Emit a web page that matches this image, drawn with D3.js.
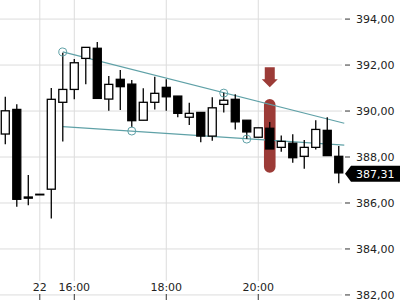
<!DOCTYPE html>
<html>
<head>
<meta charset="utf-8">
<script src="https://cdnjs.cloudflare.com/ajax/libs/d3/7.8.5/d3.min.js"></script>
<style>
  body { margin: 0; background: #fff; }
  svg { display: block; font-family: 'DejaVu Sans', sans-serif; }
</style>
</head>
<body>
<div id="chart"></div>
<script>
// 15 minute candles, one entry per bar
var opens  = [389.00, 390.07, 386.26, 386.38, 386.60, 390.38, 390.94, 392.29, 392.73, 390.52,
              391.38, 391.17, 389.60, 390.38, 391.03, 390.65, 389.73, 389.94, 388.91, 390.29,
              390.51, 389.60, 388.86, 389.25, 388.42, 388.60, 388.03, 388.42, 389.16, 388.03];
var highs  = [390.62, 390.30, 387.22, 386.38, 391.00, 392.53, 392.26, 392.77, 393.00, 391.52,
              391.78, 391.35, 390.99, 391.49, 391.38, 390.65, 390.36, 389.94, 390.60, 390.80,
              390.73, 389.60, 389.27, 389.52, 388.94, 388.99, 388.74, 389.60, 389.73, 388.48];
var lows   = [388.55, 385.84, 385.90, 386.38, 385.33, 388.67, 390.51, 391.16, 390.55, 390.01,
              390.04, 389.30, 389.60, 390.07, 390.01, 389.73, 389.39, 388.64, 388.71, 389.94,
              389.20, 388.79, 388.86, 388.35, 388.23, 387.75, 387.49, 388.33, 388.06, 386.86];
var closes = [390.01, 386.16, 386.21, 386.38, 390.51, 390.94, 392.10, 392.77, 390.55, 391.16,
              391.06, 389.58, 390.38, 390.77, 390.62, 389.90, 389.90, 388.91, 390.14, 390.47,
              389.53, 389.09, 389.27, 388.35, 388.68, 387.97, 388.42, 389.20, 388.06, 387.31];

var timeTickIndex  = [3, 6, 14, 22];
var timeTickLabels = ['22', '16:00', '18:00', '20:00'];
var priceTicks = [382, 384, 386, 388, 390, 392, 394];

// trend lines as [bar index, price]
var upperTrend = [[5, 392.57], [29.48, 389.47]];
var lowerTrend = [[5, 389.32], [29.48, 388.52]];
var trendAnchors = [[5, 392.57], [19, 390.78], [11, 389.13], [21, 388.78]];

// sell signal marker
var signalIndex = 23;
var signalBand = [387.32, 390.52];
var signalArrow = [391.91, 391.04];

var width = 400, height = 300;
var teal = '#5fa1a7';
var signalColor = '#9c3b37';

var locale = d3.formatLocale({decimal: ',', thousands: '.', grouping: [3], currency: ['', '']});
var fmt = locale.format('.2f');

var candles = opens.map(function(o, i) {
  return {i: i, open: o, high: highs[i], low: lows[i], close: closes[i]};
});

var x = d3.scaleLinear().domain([-0.46, 29.5]).range([0, 344.5]);
var y = d3.scaleLinear().domain([381.78, 394.83]).range([height, 0]);

var svg = d3.select('#chart').append('svg')
  .attr('width', width)
  .attr('height', height);

// grid
var grid = svg.append('g');
grid.selectAll('.hgrid').data(priceTicks).enter().append('line')
  .attr('x1', 0).attr('x2', 342)
  .attr('y1', function(d) { return y(d); })
  .attr('y2', function(d) { return y(d); })
  .attr('stroke', '#dcdcdc').attr('stroke-width', 1);
grid.selectAll('.vgrid').data(timeTickIndex).enter().append('line')
  .attr('x1', function(d) { return x(d); })
  .attr('x2', function(d) { return x(d); })
  .attr('y1', 0).attr('y2', 281)
  .attr('stroke', '#dcdcdc').attr('stroke-width', 1);

// right price axis
var yAxis = svg.append('g');
yAxis.selectAll('line').data(priceTicks).enter().append('line')
  .attr('x1', 345).attr('x2', 350)
  .attr('y1', function(d) { return y(d); })
  .attr('y2', function(d) { return y(d); })
  .attr('stroke', '#333');
yAxis.selectAll('text').data(priceTicks).enter().append('text')
  .attr('x', 356)
  .attr('y', function(d) { return y(d); })
  .attr('dy', '0.35em')
  .attr('font-size', 11)
  .attr('fill', '#222')
  .text(function(d) { return fmt(d); });

// bottom time axis (labels sit above the ticks)
var xAxis = svg.append('g');
xAxis.selectAll('line').data(timeTickIndex).enter().append('line')
  .attr('x1', function(d) { return x(d); })
  .attr('x2', function(d) { return x(d); })
  .attr('y1', 294).attr('y2', 300)
  .attr('stroke', '#333');
xAxis.selectAll('text').data(timeTickIndex).enter().append('text')
  .attr('x', function(d) { return x(d); })
  .attr('y', 291)
  .attr('text-anchor', 'middle')
  .attr('font-size', 11)
  .attr('fill', '#222')
  .text(function(d, i) { return timeTickLabels[i]; });

// signal pill + arrow
var sx = x(signalIndex);
svg.append('rect')
  .attr('x', sx - 5.8).attr('width', 11.6)
  .attr('y', y(signalBand[1]))
  .attr('height', y(signalBand[0]) - y(signalBand[1]))
  .attr('rx', 5.8)
  .attr('fill', signalColor);

var aTop = y(signalArrow[0]), aTip = y(signalArrow[1]);
svg.append('path')
  .attr('d', 'M' + (sx - 5) + ',' + aTop + 'H' + (sx + 5) + 'V' + (aTip - 8) +
             'H' + (sx + 8) + 'L' + sx + ',' + aTip + 'L' + (sx - 8) + ',' + (aTip - 8) +
             'H' + (sx - 5) + 'Z')
  .attr('fill', signalColor);

// trend lines
var line = d3.line()
  .x(function(d) { return x(d[0]); })
  .y(function(d) { return y(d[1]); });
[upperTrend, lowerTrend].forEach(function(t) {
  svg.append('path').attr('d', line(t))
    .attr('fill', 'none').attr('stroke', teal).attr('stroke-width', 1.2);
});

// candles
var bodyW = 8;
var cg = svg.append('g').selectAll('g').data(candles).enter().append('g');
cg.append('line')
  .attr('x1', function(d) { return x(d.i); })
  .attr('x2', function(d) { return x(d.i); })
  .attr('y1', function(d) { return y(d.high); })
  .attr('y2', function(d) { return y(d.low); })
  .attr('stroke', '#000').attr('stroke-width', 1.3);
cg.append('rect')
  .attr('x', function(d) { return x(d.i) - bodyW / 2; })
  .attr('width', bodyW)
  .attr('y', function(d) { return y(Math.max(d.open, d.close)); })
  .attr('height', function(d) { return Math.max(Math.abs(y(d.open) - y(d.close)), 0.6); })
  .attr('fill', function(d) { return d.close > d.open ? '#fff' : '#000'; })
  .attr('stroke', '#000').attr('stroke-width', 1.3);

// anchor circles on the trend lines
svg.append('g').selectAll('circle').data(trendAnchors).enter().append('circle')
  .attr('cx', function(d) { return x(d[0]); })
  .attr('cy', function(d) { return y(d[1]); })
  .attr('r', 4)
  .attr('fill', 'none')
  .attr('stroke', teal).attr('stroke-width', 1);

// last price tag
var last = closes[closes.length - 1];
var ly = y(last) + 1;
svg.append('path')
  .attr('d', 'M345,' + ly + 'L351,' + (ly - 8) + 'H400V' + (ly + 8) + 'H351Z')
  .attr('fill', '#000');
svg.append('text')
  .attr('x', 356).attr('y', ly)
  .attr('dy', '0.35em')
  .attr('font-size', 11)
  .attr('fill', '#fff')
  .text(fmt(last));
</script>
</body>
</html>
